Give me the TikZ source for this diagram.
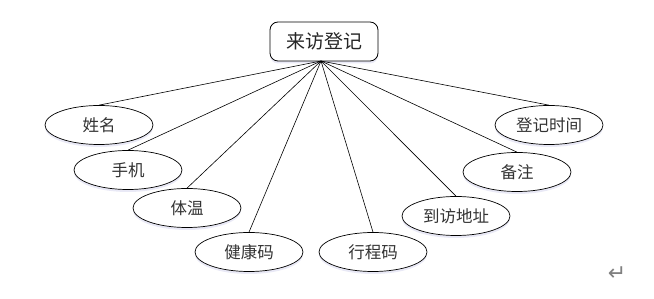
\documentclass[tikz,border=0pt]{standalone}
\usepackage{fontspec}
\newfontfamily\cjk{Noto Sans CJK SC}
\newfontfamily\sym{DejaVu Sans}
\usetikzlibrary{shapes.geometric,shadows}
\tikzset{
  attr/.style={ellipse, draw, line width=0.7pt, fill=white, minimum width=108pt, minimum height=39pt, inner sep=0pt,
    font=\cjk\fontsize{16.5}{18}\selectfont, text=black!80,
    drop shadow={opacity=0.12, shadow xshift=0pt, shadow yshift=-2.5pt, fill=blue!40!gray}},
  entity/.style={rectangle, rounded corners=8pt, draw, line width=0.8pt, fill=white, minimum width=108pt, minimum height=39pt, inner sep=0pt,
    font=\cjk\fontsize{19}{21}\selectfont, text=black!85,
    drop shadow={opacity=0.12, shadow xshift=0pt, shadow yshift=-2.5pt, fill=blue!40!gray}},
  link/.style={line width=0.6pt}
}
\begin{document}
\begin{tikzpicture}[x=1pt,y=-1pt]
\useasboundingbox (0,0) rectangle (654,299);
\node[entity] (root) at (324,41.5) {来访登记};
\coordinate (hub) at (321,61);
\node[attr] (a1) at (99,125) {姓名};
\node[attr] (a2) at (128,170) {手机};
\node[attr] (a3) at (187,208) {体温};
\node[attr] (a4) at (249,252) {健康码};
\node[attr] (a5) at (373,252) {行程码};
\node[attr] (a6) at (456,216) {到访地址};
\node[attr] (a7) at (517,172) {备注};
\node[attr] (a8) at (549,125) {登记时间};
\foreach \n in {a1,a2,a3,a4,a5,a6,a7,a8}
  \draw[link] (hub) -- (\n.north);
\node[font=\sym\fontsize{22}{24}\selectfont, text=black!50, inner sep=0pt] (ret) at (617,274) {↵};
\end{tikzpicture}
\end{document}
